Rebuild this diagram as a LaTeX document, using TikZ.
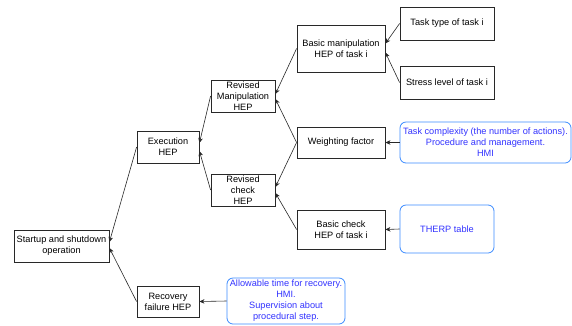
\documentclass[tikz,border=0pt]{standalone}
\usepackage{fontspec}
\setmainfont{Liberation Sans}
\usetikzlibrary{arrows.meta}
\definecolor{bluetext}{RGB}{51,51,255}
\definecolor{blueline}{RGB}{60,140,255}
\definecolor{edgegray}{RGB}{40,40,40}
\begin{document}
\begin{tikzpicture}[x=1pt,y=-1pt,
  every node/.style={font=\fontsize{9.2}{11}\selectfont, align=center, inner sep=1pt},
  sbox/.style={draw=edgegray, line width=0.8pt, fill=white, text=black},
  rbox/.style={draw=blueline, line width=0.8pt, rounded corners=6pt, fill=white, text=bluetext},
  conn/.style={draw=edgegray, line width=0.6pt, -{Stealth[length=5pt,width=4.5pt,inset=1.5pt]}}]
\useasboundingbox (0,0) rectangle (572,325);
\fill[white] (0,0) rectangle (572,325);
% nodes
\node[sbox, minimum width=95pt, minimum height=32pt] (start) at (61.5,246) {Startup and shutdown\\operation};
\node[sbox, minimum width=62pt, minimum height=32pt] (exec) at (168,147) {Execution\\HEP};
\node[sbox, minimum width=62pt, minimum height=31pt] (recov) at (168,301.5) {Recovery\\failure HEP};
\node[sbox, minimum width=64pt, minimum height=32pt] (revm) at (243,96) {Revised\\Manipulation\\HEP};
\node[sbox, minimum width=64pt, minimum height=32pt] (revc) at (243,190) {Revised\\check\\HEP};
\node[sbox, minimum width=88pt, minimum height=47pt] (basm) at (341,48.5) {Basic manipulation\\HEP of task i};
\node[sbox, minimum width=88pt, minimum height=31pt] (wf) at (341,142.5) {Weighting factor};
\node[sbox, minimum width=88pt, minimum height=39pt] (basc) at (341,229.5) {Basic check\\HEP of task i};
\node[sbox, minimum width=94pt, minimum height=33pt] (tt) at (447,23.5) {Task type of task i};
\node[sbox, minimum width=94pt, minimum height=33pt] (sl) at (447,82.5) {Stress level of task i};
\node[rbox, minimum width=171pt, minimum height=41pt] (tc) at (485.5,142.5) {Task complexity (the number of actions).\\Procedure and management.\\HMI};
\node[rbox, minimum width=94pt, minimum height=48pt] (therp) at (447,229) {THERP table};
\node[rbox, minimum width=118pt, minimum height=46pt] (allow) at (286,301) {Allowable time for recovery.\\HMI.\\Supervision about\\procedural step.};
% connectors
\draw[conn] (exec.west) -- ([yshift=4pt]start.east);
\draw[conn] (recov.west) -- ([yshift=-2pt]start.east);
\draw[conn] (revm.west) -- ([yshift=4pt]exec.east);
\draw[conn] (revc.west) -- ([yshift=-4pt]exec.east);
\draw[conn] (basm.west) -- ([yshift=2pt]revm.east);
\draw[conn] (wf.west) -- ([yshift=-3pt]revm.east);
\draw[conn] (wf.west) -- ([yshift=3pt]revc.east);
\draw[conn] (basc.west) -- ([yshift=-3pt]revc.east);
\draw[conn] (tt.west) -- ([yshift=5pt]basm.east);
\draw[conn] (sl.west) -- ([yshift=-4pt]basm.east);
\draw[conn] (tc.west) -- (wf.east);
\draw[conn] (therp.west) -- (basc.east);
\draw[conn] (allow.west) -- (recov.east);
\end{tikzpicture}
\end{document}
